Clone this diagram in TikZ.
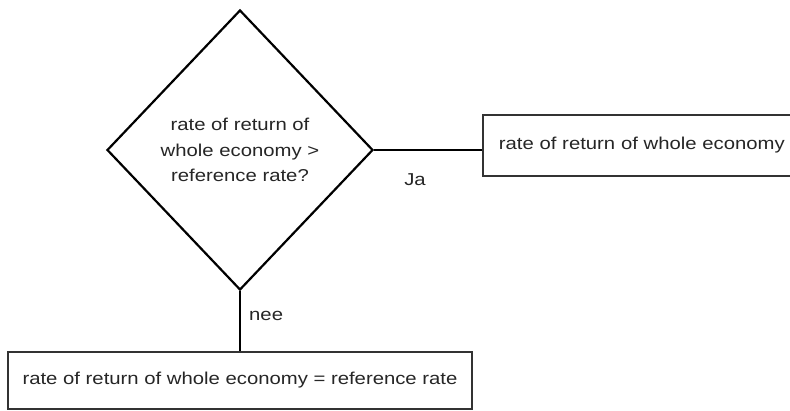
\documentclass[tikz,border=0pt]{standalone}
\usepackage{fontspec}
\setmainfont[FakeStretch=1.18]{Liberation Sans}
\usetikzlibrary{shapes.geometric}
\begin{document}
\begin{tikzpicture}[x=1pt,y=-1pt,
  lbl/.style={font=\fontsize{17.2}{25.5}\selectfont, text=black!85},
  decision/.style={diamond, draw=black, line width=2.2pt, inner sep=0pt, minimum width=266pt, minimum height=280pt, align=center, lbl},
  outbox/.style={rectangle, draw=black!80, line width=1.8pt, inner sep=0pt, lbl},
  conn/.style={draw=black, line width=2.5pt}]
\useasboundingbox (0,0) rectangle (790,410);
\fill[white] (0,0) rectangle (790,410);
\node[decision] (d) at (240,150) {rate of return of\\whole economy >\\reference rate?};
\node[outbox, anchor=west, minimum width=350pt, minimum height=61pt, text width=318pt, inner xsep=16pt, align=left] (rb) at (482,145.5) {rate of return of whole economy};
\node[outbox, minimum width=464pt, minimum height=57pt, align=center] (bb) at (240,380.5) {rate of return of whole economy = reference rate};
\draw[conn] (d.east) -- (d.east -| rb.west);
\draw[conn] (d.south) -- (d.south |- bb.north);
\node[lbl, anchor=center] (ja) at (415,180) {Ja};
\node[lbl, anchor=west, inner xsep=0pt] (nee) at (249,316) {nee};
\end{tikzpicture}
\end{document}
